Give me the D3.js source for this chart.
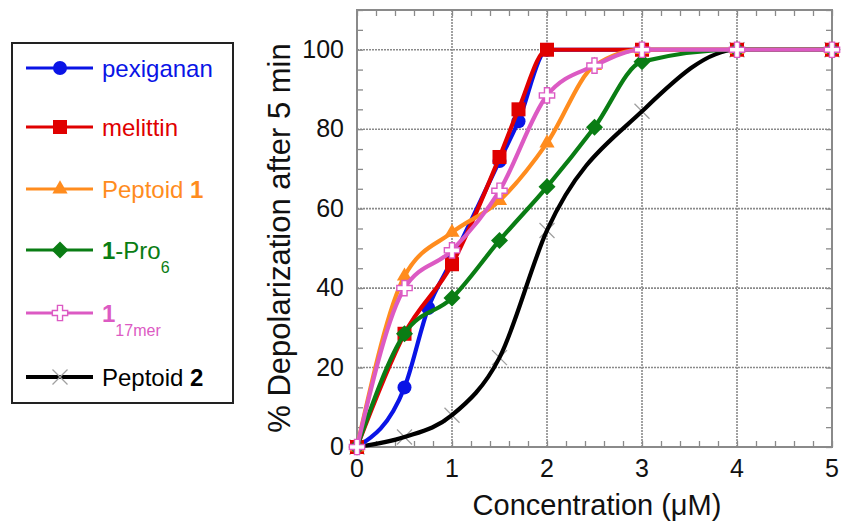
<!DOCTYPE html>
<html>
<head>
<meta charset="utf-8">
<script src="https://cdn.jsdelivr.net/npm/d3@7"></script>
<style>
  body { margin: 0; background: #fff; }
  svg { font-family: "Liberation Sans", Arial, sans-serif; }
</style>
</head>
<body>
<svg id="chart"></svg>
<script>
const width = 846, height = 529;

// concentrations (uM) and % depolarization for each compound
const pexiganan = [[0, 0], [0.5, 15], [0.75, 35], [1, 47], [1.5, 72], [1.7, 82], [2, 100], [3, 100], [4, 100], [5, 100]];
const melittin = [[0, 0], [0.5, 28.5], [1, 46], [1.5, 73], [1.7, 85], [2, 100], [3, 100], [4, 100], [5, 100]];
const peptoid1 = [[0, 0], [0.5, 43], [1, 54], [1.5, 62], [2, 76.5], [2.5, 96], [3, 100], [4, 100], [5, 100]];
const pro6 = [[0, 0], [0.5, 28.5], [1, 37.5], [1.5, 52], [2, 65.5], [2.5, 80.5], [3, 97], [4, 100], [5, 100]];
const mer17 = [[0, 0], [0.5, 40], [1, 49.5], [1.5, 64.5], [2, 88.5], [2.5, 96], [3, 100], [4, 100], [5, 100]];
const peptoid2 = [[0, 0], [0.5, 2.5], [1, 8], [1.5, 22.5], [2, 54.5], [3, 84.5], [4, 100], [5, 100]];

const xTicks = [0, 1, 2, 3, 4, 5];
const yTicks = [0, 20, 40, 60, 80, 100];

const series = [
    { name: "peptoid2", data: peptoid2, color: "#000000", marker: "x" },
    { name: "pexiganan", data: pexiganan, color: "#0a14e6", marker: "circle" },
    { name: "melittin", data: melittin, color: "#e00000", marker: "square" },
    { name: "peptoid1", data: peptoid1, color: "#ff8c1e", marker: "triangle" },
    { name: "pro6", data: pro6, color: "#0a7d14", marker: "diamond" },
    { name: "mer17", data: mer17, color: "#dc5ac3", marker: "plus" }
];

const svg = d3.select("#chart").attr("width", width).attr("height", height);

const x = d3.scaleLinear().domain([0, 5]).range([357, 832]);
const y = d3.scaleLinear().domain([0, 110]).range([447, 10]);

// grid
const grid = svg.append("g");
grid.selectAll(".gx").data(xTicks.slice(1, -1)).enter().append("line")
    .attr("x1", d => x(d)).attr("x2", d => x(d))
    .attr("y1", y(0)).attr("y2", y(110))
    .attr("stroke", "#8a8a8a").attr("stroke-width", 1.6).attr("stroke-dasharray", "2,1");
grid.selectAll(".gy").data(yTicks.slice(1)).enter().append("line")
    .attr("x1", x(0)).attr("x2", x(5))
    .attr("y1", d => y(d)).attr("y2", d => y(d))
    .attr("stroke", "#8a8a8a").attr("stroke-width", 1.6).attr("stroke-dasharray", "2,1");

// inward ticks on all four sides
const frame = svg.append("g");
const xAxB = d3.axisBottom(x).tickValues(d3.range(0, 5.01, 0.2)).tickSize(-6).tickFormat("");
const xAxT = d3.axisTop(x).tickValues(d3.range(0, 5.01, 0.2)).tickSize(-6).tickFormat("");
const yAxL = d3.axisLeft(y).tickValues(d3.range(0, 110.1, 5)).tickSize(-6).tickFormat("");
const yAxR = d3.axisRight(y).tickValues(d3.range(0, 110.1, 5)).tickSize(-6).tickFormat("");
frame.append("g").attr("transform", `translate(0,${y(0)})`).call(xAxB);
frame.append("g").attr("transform", `translate(0,${y(110)})`).call(xAxT);
frame.append("g").attr("transform", `translate(${x(0)},0)`).call(yAxL);
frame.append("g").attr("transform", `translate(${x(5)},0)`).call(yAxR);
frame.selectAll(".domain").remove();
frame.selectAll(".tick line").attr("stroke", "#8a8a8a").attr("stroke-width", 1.3);
frame.append("rect")
    .attr("x", x(0)).attr("y", y(110))
    .attr("width", x(5) - x(0)).attr("height", y(0) - y(110))
    .attr("fill", "none").attr("stroke", "#8a8a8a").attr("stroke-width", 2);

// tick labels
svg.selectAll(".xl").data(xTicks).enter().append("text")
    .attr("x", d => x(d)).attr("y", 477)
    .attr("text-anchor", "middle").attr("font-size", 25).attr("fill", "#111")
    .text(d => d);
svg.selectAll(".yl").data(yTicks).enter().append("text")
    .attr("x", 344).attr("y", d => y(d) + 8)
    .attr("text-anchor", "end").attr("font-size", 25).attr("fill", "#111")
    .text(d => d);

svg.append("text")
    .attr("x", 597).attr("y", 515)
    .attr("text-anchor", "middle").attr("font-size", 29).attr("fill", "#111")
    .text("Concentration (\u03bcM)");
svg.append("text")
    .attr("transform", "translate(290,238) rotate(-90)")
    .attr("text-anchor", "middle").attr("font-size", 31).attr("fill", "#111")
    .text("% Depolarization after 5 min");

// marker drawing
function drawMarker(g, type, color) {
    if (type === "circle") {
        g.append("circle").attr("r", 7).attr("fill", color);
    } else if (type === "square") {
        g.append("rect").attr("x", -7).attr("y", -7).attr("width", 14).attr("height", 14).attr("fill", color);
    } else if (type === "triangle") {
        g.append("path").attr("d", d3.symbol(d3.symbolTriangle, 100)()).attr("fill", color);
    } else if (type === "diamond") {
        g.append("rect").attr("x", -6).attr("y", -6).attr("width", 12).attr("height", 12)
            .attr("transform", "rotate(45)").attr("fill", color);
    } else if (type === "plus") {
        g.append("path").attr("d", d3.symbol(d3.symbolCross, 130)())
            .attr("fill", "#fff").attr("stroke", color).attr("stroke-width", 1.4);
    } else if (type === "x") {
        g.append("path").attr("d", "M-7.5,-7.5L7.5,7.5M-7.5,7.5L7.5,-7.5")
            .attr("stroke", "#a0a0a0").attr("stroke-width", 1.3);
    }
}

const line = d3.line().x(d => x(d[0])).y(d => y(d[1])).curve(d3.curveMonotoneX);

series.forEach(s => {
    const g = svg.append("g");
    const isX = s.marker === "x";
    if (isX) {
        g.selectAll(".m").data(s.data).enter().append("g")
            .attr("transform", d => `translate(${x(d[0])},${y(d[1])})`)
            .each(function () { drawMarker(d3.select(this), s.marker, s.color); });
    }
    g.append("path").datum(s.data).attr("d", line)
        .attr("fill", "none").attr("stroke", s.color).attr("stroke-width", 4.2)
        .attr("stroke-linejoin", "round");
    if (!isX) {
        g.selectAll(".m").data(s.data).enter().append("g")
            .attr("transform", d => `translate(${x(d[0])},${y(d[1])})`)
            .each(function () { drawMarker(d3.select(this), s.marker, s.color); });
    }
});

// legend
const legend = svg.append("g");
legend.append("rect").attr("x", 12).attr("y", 43).attr("width", 221).attr("height", 360)
    .attr("fill", "#fff").attr("stroke", "#222").attr("stroke-width", 2);

const legendRows = [
    { color: "#0a14e6", marker: "circle", y: 68, parts: [["pexiganan", "n"]] },
    { color: "#e00000", marker: "square", y: 127, parts: [["melittin", "n"]] },
    { color: "#ff8c1e", marker: "triangle", y: 189, parts: [["Peptoid ", "n"], ["1", "b"]] },
    { color: "#0a7d14", marker: "diamond", y: 250, parts: [["1", "b"], ["-Pro", "n"], ["6", "s"]] },
    { color: "#dc5ac3", marker: "plus", y: 313, parts: [["1", "b"], ["17mer", "s"]] },
    { color: "#000000", marker: "x", y: 377, parts: [["Peptoid ", "n"], ["2", "b"]] }
];

legendRows.forEach(r => {
    const g = legend.append("g").attr("transform", `translate(0,${r.y})`);
    g.append("line").attr("x1", 26).attr("x2", 93).attr("stroke", r.color)
        .attr("stroke-width", r.marker === "x" ? 4 : 3);
    drawMarker(g.append("g").attr("transform", "translate(60,0)"), r.marker, r.color);
    const t = g.append("text").attr("x", 102).attr("y", 9).attr("font-size", 24).attr("fill", r.color);
    r.parts.forEach(p => {
        const ts = t.append("tspan").text(p[0]);
        if (p[1] === "b") ts.attr("font-weight", "bold");
        if (p[1] === "s") ts.attr("font-size", 16).attr("dy", 14);
    });
});
</script>
</body>
</html>
